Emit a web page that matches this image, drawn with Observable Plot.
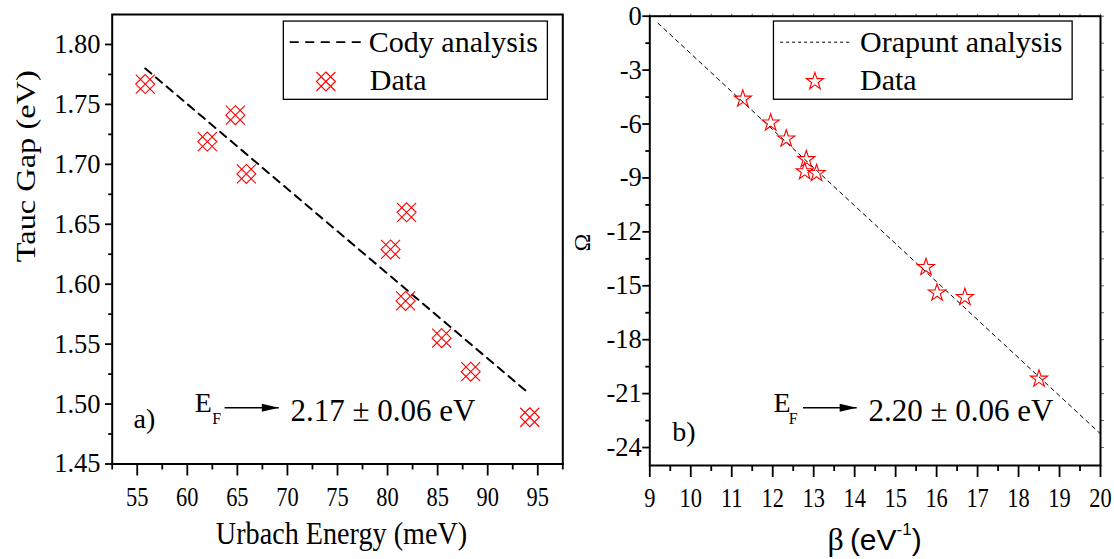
<!DOCTYPE html>
<html>
<head>
<meta charset="utf-8">
<script src="https://cdn.jsdelivr.net/npm/d3@7"></script>
<script src="https://cdn.jsdelivr.net/npm/@observablehq/plot@0.6"></script>
<style>
  body { margin: 0; background: #fff; }
  #wrap { position: relative; width: 1114px; height: 559px; overflow: hidden; background: #fff; }
  #wrap svg { position: absolute; top: 0; }
</style>
</head>
<body>
<div id="wrap"></div>
<script>
// ---- Panel a): Tauc gap against Urbach energy ----
const urbachEnergy = [55.8, 62.0, 64.8, 65.9, 81.9, 80.3, 81.8, 85.4, 88.3, 94.2];
const taucGap      = [1.767, 1.719, 1.741, 1.692, 1.660, 1.629, 1.586, 1.555, 1.527, 1.489];
const codyFitX = [55.8, 94.1];
const codyFitY = [1.780, 1.509];
const urbachTicks = [55, 60, 65, 70, 75, 80, 85, 90, 95];
const urbachMinor = [52.5, 57.5, 62.5, 67.5, 72.5, 77.5, 82.5, 87.5, 92.5, 97.5];
const gapTicks = [1.45, 1.50, 1.55, 1.60, 1.65, 1.70, 1.75, 1.80];
const gapMinor = [1.475, 1.525, 1.575, 1.625, 1.675, 1.725, 1.775];

// ---- Panel b): Orapunt analysis, Omega against beta ----
const beta  = [11.27, 11.95, 12.33, 12.82, 12.78, 13.07, 15.74, 16.01, 16.69, 18.50];
const omega = [-4.60, -5.93, -6.82, -7.97, -8.64, -8.74, -13.97, -15.39, -15.64, -20.18];
const orapuntFitX = [9.2, 20];
const orapuntFitY = [-0.39, -23.24];
const betaTicks = [9, 10, 11, 12, 13, 14, 15, 16, 17, 18, 19, 20];
const betaMinor = [9.5, 10.5, 11.5, 12.5, 13.5, 14.5, 15.5, 16.5, 17.5, 18.5, 19.5];
const omegaTicks = [0, -3, -6, -9, -12, -15, -18, -21, -24];
const omegaMinor = [-1.5, -4.5, -7.5, -10.5, -13.5, -16.5, -19.5, -22.5];

// ---- Text ----
const legendA = ["Cody analysis", "Data"];
const legendB = ["Orapunt analysis", "Data"];
const fermiLevel = ["2.17 ± 0.06 eV", "2.20 ± 0.06 eV"];
const panelTag = ["a)", "b)"];

const pointsA = urbachEnergy.map((x, i) => ({x, y: taucGap[i]}));
const fitA = codyFitX.map((x, i) => ({x, y: codyFitY[i]}));
const pointsB = beta.map((x, i) => ({x, y: omega[i]}));
const fitB = orapuntFitX.map((x, i) => ({x, y: orapuntFitY[i]}));

const H = 559;
const serif = "'Liberation Serif', 'Times New Roman', serif";
const sans = "'Liberation Sans', Arial, sans-serif";

// open diamond with an X reaching to the corners of its bounding square
const diamondX = {
  draw(ctx, size) {
    const h = Math.sqrt(size / Math.PI);
    ctx.moveTo(0, -h); ctx.lineTo(h, 0); ctx.lineTo(0, h); ctx.lineTo(-h, 0); ctx.closePath();
    ctx.moveTo(-h, -h); ctx.lineTo(h, h);
    ctx.moveTo(h, -h); ctx.lineTo(-h, h);
  }
};
// slim filled arrow head pointing right, tip at the origin
const arrowHead = {
  draw(ctx) {
    ctx.moveTo(0, 0); ctx.lineTo(-17, -4); ctx.lineTo(-17, 4); ctx.closePath();
  }
};

function fermiMarks(eX, eY, fX, fY, ax1, ax2, ay, vX, vY, label) {
  return [
    Plot.text(["E"], {x: eX, y: eY, text: d => d, textAnchor: "start", fontSize: 28}),
    Plot.text(["F"], {x: fX, y: fY, text: d => d, textAnchor: "start", fontSize: 16}),
    Plot.link([0], {x1: ax1, x2: ax2, y1: ay, y2: ay, stroke: "#000", strokeWidth: 1.4}),
    Plot.dot([0], {x: ax2, y: ay, symbol: arrowHead, fill: "#000", stroke: "none"}),
    Plot.text([label], {x: vX, y: vY, text: d => d, textAnchor: "start", fontSize: 31})
  ];
}

const left = Plot.plot({
  width: 570, height: H,
  marginLeft: 111.7, marginRight: 7.7, marginTop: 14, marginBottom: 95.5,
  style: {fontFamily: serif, fontSize: "26px", color: "#000", background: "none", overflow: "visible"},
  x: {domain: [52.5, 97.5]},
  y: {domain: [1.45, 1.825]},
  marks: [
    Plot.axisX(urbachMinor, {tickSize: 6, tickFormat: () => "", strokeWidth: 1.8, label: null}),
    Plot.axisX(urbachTicks, {tickSize: 12, tickPadding: 10.5, fontSize: 27, strokeWidth: 1.8, label: null, tickFormat: d => `${d}`}),
    Plot.axisY(gapMinor, {tickSize: 3.5, tickFormat: () => "", strokeWidth: 1.8, label: null}),
    Plot.axisY(gapTicks, {tickSize: 6.7, tickPadding: 5, fontSize: 26.5, strokeWidth: 1.8, label: null, tickFormat: d3.format(".2f")}),
    Plot.line(fitA, {x: "x", y: "y", stroke: "#000", strokeWidth: 2, strokeDasharray: "8,6"}),
    Plot.dot(pointsA, {x: "x", y: "y", symbol: diamondX, r: 9.5, stroke: "#ff0000", strokeWidth: 1.1}),
    // legend
    Plot.rect([0], {x1: 69.64, x2: 96.01, y1: 1.7538, y2: 1.8191, fill: "#fff", stroke: "#000", strokeWidth: 1.3}),
    Plot.link([0], {x1: 70.23, x2: 77.32, y1: 1.8019, y2: 1.8019, stroke: "#000", strokeWidth: 1.8, strokeDasharray: "9,6.5"}),
    Plot.text([legendA[0]], {x: 78.13, y: 1.8019, text: d => d, textAnchor: "start", fontSize: 30}),
    Plot.dot([0], {x: 73.84, y: 1.7691, symbol: diamondX, r: 9.5, stroke: "#ff0000", strokeWidth: 1.1}),
    Plot.text([legendA[1]], {x: 78.23, y: 1.7699, text: d => d, textAnchor: "start", fontSize: 30}),
    // Fermi level note and panel tag
    ...fermiMarks(60.75, 1.5009, 62.49, 1.4877, 63.72, 69.14, 1.4969, 70.31, 1.4944, fermiLevel[0]),
    Plot.text([panelTag[0]], {x: 54.63, y: 1.4873, text: d => d, textAnchor: "start", fontSize: 28}),
    // axis titles
    Plot.text(["Tauc Gap (eV)"], {frameAnchor: "left", rotate: -90, dx: -85.7, dy: 23, text: d => d, fontSize: 27}),
    Plot.text(["Urbach Energy (meV)"], {frameAnchor: "bottom", dx: 4, dy: 80, text: d => d, fontSize: 32}),
    Plot.frame({stroke: "#000", strokeWidth: 2})
  ]
});

const right = Plot.plot({
  width: 554, height: H,
  marginLeft: 89.3, marginRight: 14, marginTop: 15.7, marginBottom: 94,
  style: {fontFamily: serif, fontSize: "26px", color: "#000", background: "none", overflow: "visible"},
  x: {domain: [9, 20]},
  y: {domain: [-25, 0]},
  marks: [
    Plot.axisX(betaMinor, {tickSize: 6, tickFormat: () => "", strokeWidth: 1.8, label: null}),
    Plot.axisX(betaTicks, {tickSize: 12, tickPadding: 10.5, fontSize: 27, strokeWidth: 1.8, label: null, tickFormat: d => `${d}`}),
    Plot.axisX(betaTicks.concat(betaMinor), {anchor: "top", tickSize: 3, tickFormat: () => "", stroke: "#666", label: null}),
    Plot.axisY(omegaMinor, {tickSize: 4, tickFormat: () => "", strokeWidth: 1.8, label: null}),
    Plot.axisY(omegaTicks, {tickSize: 7, tickPadding: 1, fontSize: 26.5, strokeWidth: 1.8, label: null, tickFormat: d => `${d}`}),
    Plot.axisY(omegaTicks.concat(omegaMinor), {anchor: "right", tickSize: 3, tickFormat: () => "", stroke: "#666", label: null}),
    Plot.line(fitB, {x: "x", y: "y", stroke: "#000", strokeWidth: 1, strokeDasharray: "4,4"}),
    Plot.dot(pointsB, {x: "x", y: "y", symbol: "star", r: 5.4, stroke: "#ff0000", fill: "none", strokeWidth: 1.1}),
    // legend
    Plot.rect([0], {x1: 12.03, x2: 19.32, y1: -4.65, y2: -0.295, fill: "#fff", stroke: "#000", strokeWidth: 1.3}),
    Plot.link([0], {x1: 12.18, x2: 13.92, y1: -1.447, y2: -1.447, stroke: "#000", strokeWidth: 1, strokeDasharray: "3,3"}),
    Plot.text([legendB[0]], {x: 14.13, y: -1.447, text: d => d, textAnchor: "start", fontSize: 30}),
    Plot.dot([0], {x: 13.03, y: -3.63, symbol: "star", r: 5.4, stroke: "#ff0000", fill: "none", strokeWidth: 1.1}),
    Plot.text([legendB[1]], {x: 14.13, y: -3.58, text: d => d, textAnchor: "start", fontSize: 30}),
    ...fermiMarks(12.02, -21.52, 12.39, -22.40, 12.74, 14.05, -21.79, 14.34, -21.96, fermiLevel[1]),
    Plot.text([panelTag[1]], {x: 9.55, y: -23.16, text: d => d, textAnchor: "start", fontSize: 28}),
    Plot.text(["Ω"], {frameAnchor: "left", rotate: -90, dx: -67.3, dy: 10.6, text: d => d, fontSize: 24}),
    Plot.frame({stroke: "#000", strokeWidth: 2})
  ]
});

const wrap = document.getElementById("wrap");
left.style.left = "0px";
right.style.left = "560px";
wrap.appendChild(left);
wrap.appendChild(right);

// beta axis title with mixed fonts and a superscript
{
  const cx = (89.3 + 554 - 14) / 2;
  const t = d3.select(right).append("text")
    .attr("x", cx).attr("y", 550).attr("text-anchor", "middle").attr("fill", "#000");
  t.append("tspan").attr("font-family", serif).attr("font-size", 32).text("β");
  t.append("tspan").attr("font-family", sans).attr("font-size", 30).text("\u2009(eV");
  t.append("tspan").attr("font-family", sans).attr("font-size", 17).attr("dy", -15).text("-1");
  t.append("tspan").attr("font-family", sans).attr("font-size", 30).attr("dy", 15).text(")");
}

// narrow the axis lettering, stretch the rotated title along its length
function scaleText(svg, selector, k) {
  svg.querySelectorAll(selector).forEach(el => {
    const n = el.getComputedTextLength();
    if (n > 0) {
      el.setAttribute("textLength", n * k);
      el.setAttribute("lengthAdjust", "spacingAndGlyphs");
    }
  });
}
for (const svg of [left, right]) {
  scaleText(svg, 'g[aria-label="x-axis tick label"] text', 0.83);
}
left.querySelectorAll('g[aria-label="text"] text').forEach(el => {
  if (el.textContent === "Tauc Gap (eV)") {
    el.setAttribute("textLength", el.getComputedTextLength() * 1.2);
    el.setAttribute("lengthAdjust", "spacingAndGlyphs");
  }
  if (el.textContent === "Urbach Energy (meV)") {
    el.setAttribute("textLength", el.getComputedTextLength() * 0.88);
    el.setAttribute("lengthAdjust", "spacingAndGlyphs");
  }
});
</script>
</body>
</html>
